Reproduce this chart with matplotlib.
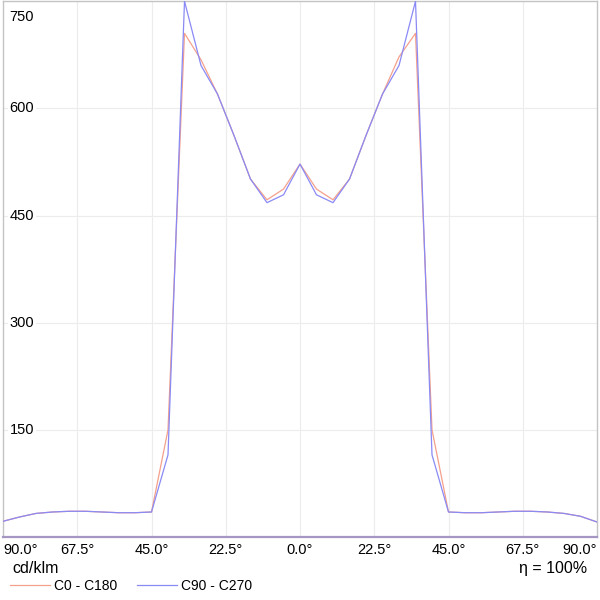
import matplotlib.pyplot as plt
import numpy as np

plt.rcParams['font.family'] = ['Liberation Sans', 'DejaVu Sans']

# gamma angles (deg) and intensities (cd/klm)
angles = [-90, -85, -80, -75, -70, -65, -60, -55, -50, -45, -40, -35, -30, -25, -20, -15, -10, -5,
          0, 5, 10, 15, 20, 25, 30, 35, 40, 45, 50, 55, 60, 65, 70, 75, 80, 85, 90]
c0_c180 = [22, 28, 33, 35, 36, 36, 35, 34, 34, 35, 150, 705, 668, 620, 562, 501, 472, 487,
           522, 487, 472, 501, 562, 620, 672, 705, 150, 35, 34, 34, 35, 36, 36, 35, 33, 29, 21]
c90_c270 = [22, 28, 33, 35, 36, 36, 35, 34, 34, 35, 115, 750, 660, 620, 562, 501, 468, 479,
            522, 479, 468, 501, 562, 620, 660, 750, 115, 35, 34, 34, 35, 36, 36, 35, 33, 29, 21]
y_ticks = [150, 300, 450, 600, 750]
x_ticks = [-90, -67.5, -45, -22.5, 0, 22.5, 45, 67.5, 90]
x_labels = ['90.0°', '67.5°', '45.0°', '22.5°', '0.0°', '22.5°', '45.0°', '67.5°', '90.0°']

fig = plt.figure(figsize=(6, 6), dpi=100)
ax = fig.add_axes([0.005, 0.105, 0.99, 0.893])

ax.plot(angles, c0_c180, color='#f4a08c', lw=0.9, label='C0 - C180', zorder=3)
ax.plot(angles, c90_c270, color='#8a8af5', lw=0.9, label='C90 - C270', zorder=3)

ax.set_xlim(-90, 90)
ax.set_ylim(0, 750)

for x in x_ticks[1:-1]:
    ax.axvline(x, color='#ececec', lw=0.8, zorder=0)
for y in y_ticks[:-1]:
    ax.axhline(y, color='#ececec', lw=0.8, zorder=0)

ax.set_yticks([])
ax.set_xticks(x_ticks)
ax.set_xticklabels(x_labels, fontsize=10.5)
ax.tick_params(axis='x', length=0, pad=4)
lbls = ax.get_xticklabels()
lbls[0].set_ha('left')
lbls[-1].set_ha('right')

# y labels drawn inside the plot
for y in y_ticks:
    yy = y if y < 750 else 728
    ax.text(-88, yy, str(y), fontsize=10.5, ha='left', va='center', zorder=2,
            bbox=dict(facecolor='white', edgecolor='none', pad=1))

for s in ['top', 'left', 'right']:
    ax.spines[s].set_color('#c4c4c4')
    ax.spines[s].set_linewidth(1)
ax.spines['bottom'].set_color('#a596c4')
ax.spines['bottom'].set_linewidth(1.6)

fig.text(0.02, 0.053, 'cd/klm', fontsize=11.5, ha='left', va='center')
fig.text(0.978, 0.053, 'η = 100%', fontsize=11.5, ha='right', va='center')

fig.legend(loc='center left', bbox_to_anchor=(-0.005, 0.024), ncol=2, frameon=False,
           fontsize=10, handlelength=2.9, handletextpad=0.3, columnspacing=1.4)

fig.savefig('out.png', dpi=100)
